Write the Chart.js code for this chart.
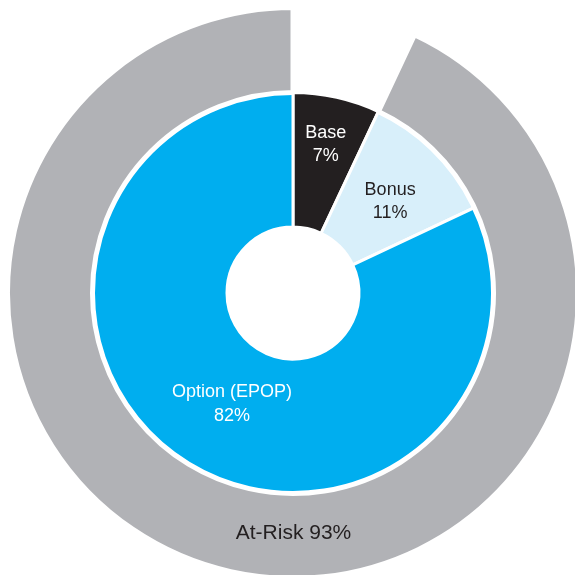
<!DOCTYPE html>
<html>
<head>
<meta charset="utf-8">
<script src="https://cdn.jsdelivr.net/npm/chart.js@4/dist/chart.umd.min.js"></script>
<style>
html,body{margin:0;padding:0;overflow:hidden;background:#fff;width:575px;height:575px}
#wrap{position:absolute;left:0;top:0;width:585px;height:585px}
</style>
</head>
<body>
<div id="wrap"><canvas id="c"></canvas></div>
<script>
// ---- data ----
const innerCategories = ['Base', 'Bonus', 'Option (EPOP)'];
const innerValues = [7, 11, 82];
const outerCategories = ['', 'At-Risk'];
const outerValues = [7, 93];

// ---- styles ----
const innerColors = ['#231F20', '#D8EFFA', '#00AEEF'];
const innerTextColors = ['#FFFFFF', '#231F20', '#FFFFFF'];
const outerColors = ['rgba(0,0,0,0)', '#B1B2B6'];
const FONT = '"Liberation Sans", Arial, Helvetica, sans-serif';

// label placement: fraction along the arc, fraction across the ring
const labelLayout = {
  0: { 1: { along: 0.462, radial: 0.45, size: 21, oneLine: true } },
  1: {
    0: { along: 0.49, radial: 0.65, size: 18 },
    1: { along: 0.53, radial: 0.51, size: 18 },
    2: { along: 0.489, radial: 0.44, size: 18 }
  }
};

const labelPlugin = {
  id: 'sliceLabels',
  afterDatasetsDraw(chart) {
    const ctx = chart.ctx;
    chart.data.datasets.forEach((ds, di) => {
      const meta = chart.getDatasetMeta(di);
      const specs = labelLayout[di] || {};
      Object.keys(specs).forEach(k => {
        const i = +k;
        const spec = specs[k];
        const arc = meta.data[i];
        const p = arc.getProps(['x', 'y', 'startAngle', 'endAngle', 'innerRadius', 'outerRadius'], true);
        const a = p.startAngle + (p.endAngle - p.startAngle) * spec.along;
        const r = p.innerRadius + (p.outerRadius - p.innerRadius) * spec.radial;
        const cx = p.x + Math.cos(a) * r;
        const cy = p.y + Math.sin(a) * r;
        const name = ds.labelNames[i];
        const val = ds.data[i] + '%';
        const lines = spec.oneLine ? [name + ' ' + val] : [name, val];
        const cap = spec.size * 0.716;
        const gap = 23.5;
        ctx.save();
        ctx.font = spec.size + 'px ' + FONT;
        ctx.fillStyle = ds.textColors[i];
        ctx.textAlign = 'center';
        ctx.textBaseline = 'alphabetic';
        const n = lines.length;
        lines.forEach((t, li) => {
          const mid = cy + (li - (n - 1) / 2) * gap;
          ctx.fillText(t, cx, mid + cap / 2);
        });
        ctx.restore();
      });
    });
  }
};

new Chart(document.getElementById('c'), {
  type: 'doughnut',
  data: {
    labels: innerCategories,
    datasets: [
      {
        data: outerValues,
        labelNames: outerCategories,
        textColors: ['#231F20', '#231F20'],
        backgroundColor: outerColors,
        borderColor: '#FFFFFF',
        borderWidth: [0, 5],
        hoverBorderWidth: 0,
        hoverOffset: 0,
        weight: 85
      },
      {
        data: innerValues,
        labelNames: innerCategories,
        textColors: innerTextColors,
        backgroundColor: innerColors,
        borderColor: '#FFFFFF',
        borderWidth: 3,
        hoverBorderWidth: 0,
        hoverOffset: 0,
        weight: 134.5
      }
    ]
  },
  options: {
    responsive: true,
    maintainAspectRatio: false,
    animation: false,
    events: [],
    cutout: '23.12%',
    layout: { padding: { left: 5, top: 5, right: 4, bottom: 4 } },
    plugins: {
      legend: { display: false },
      tooltip: { enabled: false }
    }
  },
  plugins: [labelPlugin]
});
</script>
</body>
</html>
